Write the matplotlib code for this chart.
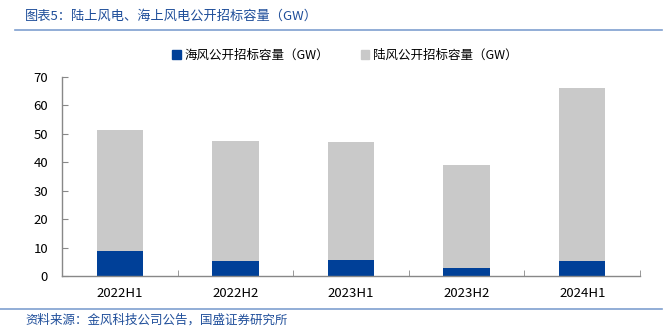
import matplotlib
matplotlib.use("Agg")
import matplotlib.pyplot as plt
from matplotlib.lines import Line2D
from matplotlib.patches import Patch

plt.rcParams['font.family'] = ['Noto Sans CJK SC', 'DejaVu Sans']

categories = ["2022H1", "2022H2", "2023H1", "2023H2", "2024H1"]
offshore = [8.9, 5.3, 5.6, 2.8, 5.2]
onshore = [42.5, 42.3, 41.7, 36.3, 61.0]
yticks = [0, 10, 20, 30, 40, 50, 60, 70]

c_off = "#004098"
c_on = "#c9c9c9"
blue_text = "#1f4e9a"

fig = plt.figure(figsize=(6.68, 3.29), dpi=100)
ax = fig.add_axes([62/668, 1-276/329, (640-62)/668, (276-77)/329])

x = list(range(len(categories)))
ax.bar(x, offshore, width=0.40, color=c_off, label="海风公开招标容量（GW）", zorder=2)
ax.bar(x, onshore, width=0.40, bottom=offshore, color=c_on, label="陆风公开招标容量（GW）", zorder=2)

ax.set_xlim(-0.5, len(categories) - 0.5)
ax.set_ylim(0, 70)
ax.set_yticks(yticks)
ax.set_yticklabels([str(v) for v in yticks], fontsize=9.5)
ax.set_xticks(x)
ax.set_xticklabels(categories, fontsize=9.5)
ax.tick_params(axis='x', length=0, pad=8)
ax.set_xticks([i + 0.5 for i in x], minor=True)
ax.tick_params(axis='x', which='minor', direction='in', length=4, color='#888888')
ax.tick_params(axis='y', direction='in', length=4, color='#888888', pad=10)
for s in ['top', 'right']:
    ax.spines[s].set_visible(False)
for s in ['left', 'bottom']:
    ax.spines[s].set_color('#888888')
    ax.spines[s].set_linewidth(1.0)

handles = [Patch(color=c_off), Patch(color=c_on)]
fig.legend(handles, ["海风公开招标容量（GW）", "陆风公开招标容量（GW）"],
           loc='center', bbox_to_anchor=(345/668, 1-55/329), ncol=2, frameon=False,
           fontsize=9, handlelength=0.7, handleheight=0.7, handletextpad=0.3,
           columnspacing=2.5)

fig.text(25/668, 1-16/329, "图表5：陆上风电、海上风电公开招标容量（GW）", fontsize=9.5,
         style='italic', color=blue_text, va='center', ha='left')
fig.add_artist(Line2D([15/668, 662/668], [1-30/329, 1-30/329], color='#7f9fcf', lw=1.2))
fig.add_artist(Line2D([0/668, 662/668], [1-309/329, 1-309/329], color='#7f9fcf', lw=1.2))
fig.text(25/668, 1-320/329, "资料来源：金风科技公司公告，国盛证券研究所", fontsize=9,
         style='italic', color=blue_text, va='center', ha='left')

fig.savefig("out.png", dpi=100)
